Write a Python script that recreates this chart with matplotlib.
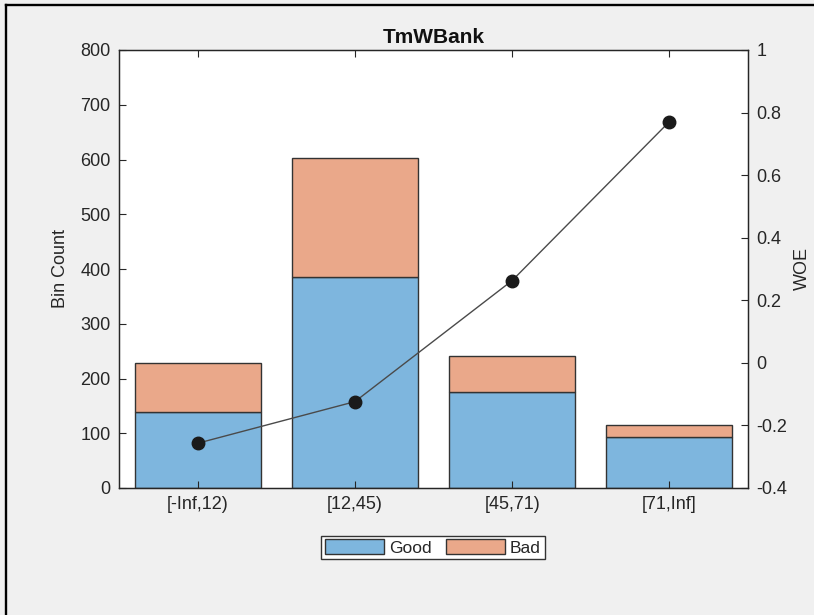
import matplotlib
matplotlib.use("Agg")
import matplotlib.pyplot as plt
from matplotlib.lines import Line2D
import numpy as np

plt.rcParams['font.family'] = ['Liberation Sans', 'DejaVu Sans']

categories = ['[-Inf,12)', '[12,45)', '[45,71)', '[71,Inf]']
good = [138, 386, 175, 94]
bad = [90, 216, 66, 21]
woe = [-0.257, -0.124, 0.263, 0.771]
title = 'TmWBank'

txt = '#262626'
fig = plt.figure(figsize=(8.14, 6.15), dpi=100, facecolor='#f0f0f0')
ax = fig.add_axes([119/814, 1-488/615, (748-119)/814, (488-50)/615])
ax.set_facecolor('white')

x = np.arange(1, len(categories)+1)
bg = ax.bar(x, good, width=0.8, color='#7eb6de', edgecolor='#333333', linewidth=1.0, label='Good')
bb = ax.bar(x, bad, width=0.8, bottom=good, color='#eaa88a', edgecolor='#333333', linewidth=1.0, label='Bad')
ax.set_xlim(0.5, 4.5)
ax.set_ylim(0, 800)
ax.set_yticks(np.arange(0, 801, 100))
ax.set_xticks(x)
ax.set_xticklabels(categories)
ax.set_ylabel('Bin Count', fontsize=13, color=txt, labelpad=8)
ax.set_title(title, fontsize=15, fontweight='bold', color='#111111', pad=5)
ax.tick_params(direction='in', length=5, width=0.8, labelsize=13, colors=txt, top=True, pad=6)
for s in ax.spines.values():
    s.set_color(txt)
    s.set_linewidth(0.9)

ax2 = ax.twinx()
ax2.plot(x, woe, color='#4a4a4a', linewidth=1.0, marker='o', markersize=9,
         markerfacecolor='#1a1a1a', markeredgecolor='#1a1a1a')
ax2.set_ylim(-0.4, 1.0)
ax2.set_yticks([-0.4, -0.2, 0, 0.2, 0.4, 0.6, 0.8, 1])
ax2.set_yticklabels(['-0.4', '-0.2', '0', '0.2', '0.4', '0.6', '0.8', '1'])
ax2.tick_params(direction='in', length=5, width=0.8, labelsize=13, colors=txt, pad=6)
ax2.set_ylabel('WOE', fontsize=13, color=txt, labelpad=5)
for s in ax2.spines.values():
    s.set_color(txt)
    s.set_linewidth(0.9)

leg = fig.legend(handles=[bg, bb], labels=['Good', 'Bad'], loc='center',
                 bbox_to_anchor=(433/814, 1-547.5/615), ncol=2, fontsize=12.5,
                 frameon=True, fancybox=False, edgecolor='#333333', facecolor='white',
                 framealpha=1, handlelength=3.4, handleheight=0.9, columnspacing=0.8,
                 handletextpad=0.3, borderpad=0.22, borderaxespad=0)
leg.get_frame().set_linewidth(1.0)
for t in leg.get_texts():
    t.set_color(txt)

fig.add_artist(Line2D([6/814, 1], [1-5/615, 1-5/615], color='black', linewidth=1.7, transform=fig.transFigure))
fig.add_artist(Line2D([6/814, 6/814], [0, 1-5/615], color='black', linewidth=1.7, transform=fig.transFigure))

fig.savefig('out.png', dpi=100, facecolor=fig.get_facecolor())
